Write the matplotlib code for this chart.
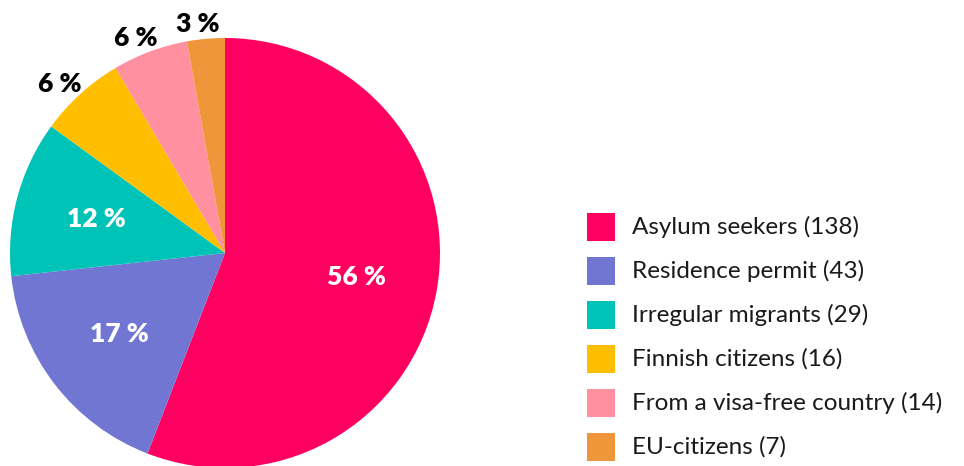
import math

import matplotlib.pyplot as plt
from matplotlib.patches import Rectangle

plt.rcParams["font.family"] = ["Lato", "DejaVu Sans"]

categories = ["Asylum seekers", "Residence permit", "Irregular migrants",
              "Finnish citizens", "From a visa-free country", "EU-citizens"]
counts = [138, 43, 29, 16, 14, 7]
pct_labels = ["56 %", "17 %", "12 %", "6 %", "6 %", "3 %"]
colors = ["#FF0061", "#7276D3", "#00C3B8", "#FFBF00", "#FF909F", "#F0963A"]

W, H = 964, 466
fig = plt.figure(figsize=(W / 100, H / 100), dpi=100)

# pie: centre (225, 253) px from top-left, radius 215 px
cx, cy, r = 225, H - 253, 215
ax = fig.add_axes([(cx - r) / W, (cy - r) / H, 2 * r / W, 2 * r / H])
wedges, _ = ax.pie(counts, colors=colors, startangle=90, counterclock=False,
                   radius=1.0, wedgeprops={"linewidth": 0})
for w in wedges:
    w.set_clip_on(False)
ax.set_xlim(-1, 1)
ax.set_ylim(-1, 1)
ax.set_aspect("equal")
ax.axis("off")

total = sum(counts)
for w, lab, n in zip(wedges, pct_labels, counts):
    mid = math.radians((w.theta1 + w.theta2) / 2)
    inside = n / total > 0.1
    d = 0.62 if inside else 1.1
    ax.text(d * math.cos(mid) - (0 if inside else 0.03),
            d * math.sin(mid) - (0 if inside else 0.03), lab,
            ha="center", va="center", fontsize=19, fontweight="heavy",
            color="white" if inside else "black", clip_on=False)

# legend drawn by hand
x0, y0, step, sq = 587, 213, 44, 28
for i, (name, n, c) in enumerate(zip(categories, counts, colors)):
    top = y0 + i * step
    fig.patches.append(Rectangle((x0 / W, (H - top - sq) / H), sq / W, sq / H,
                                 transform=fig.transFigure, color=c,
                                 linewidth=0))
    fig.text(632 / W, (H - top - sq / 2) / H, f"{name} ({n})",
             ha="left", va="center", fontsize=17.5, color="#1a1a1a")

fig.savefig("out.png", dpi=100)
